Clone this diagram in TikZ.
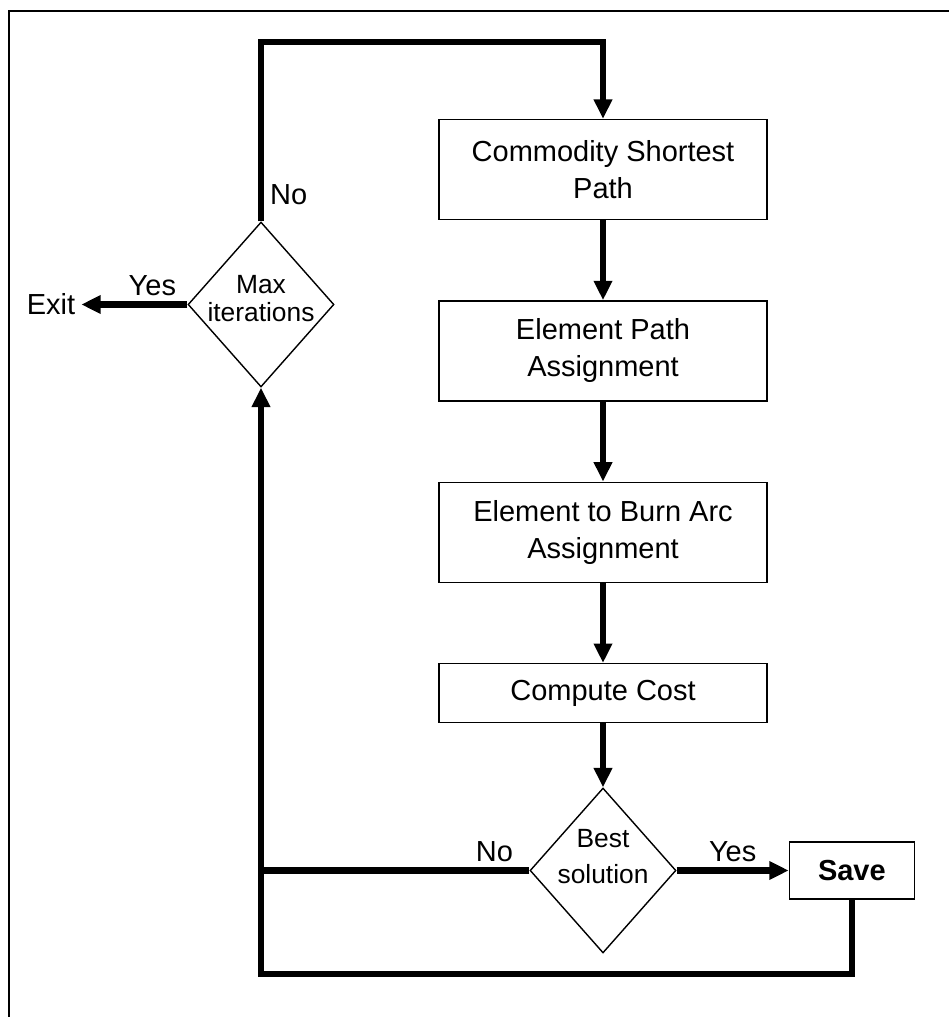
\documentclass[tikz,border=0pt]{standalone}
\usepackage{fontspec}
\setmainfont{Liberation Sans}
\usetikzlibrary{positioning, shapes.geometric, arrows.meta}
\tikzstyle{block} = [rectangle, draw, line width=0.8pt, align=center, minimum width=6.56cm, minimum height=2cm, font=\fontsize{16.5}{21}\selectfont]
\tikzstyle{decision} = [diamond, draw, line width=0.8pt, align=center, inner xsep=-12pt, inner ysep=0pt, minimum width=2.92cm, minimum height=3.3cm, font=\fontsize{15}{16}\selectfont]
\tikzstyle{flow} = [line width=3.8pt, line join=miter]
\tikzstyle{answer} = [font=\fontsize{16.5}{20}\selectfont]

\begin{document}
\begin{tikzpicture}[x=0.02cm, y=-0.02cm, node distance = 1.6cm and 2.24cm, >={Triangle[length=11pt, width=10pt]}]

        \useasboundingbox (0,0) rectangle (949,1017);
        % page frame
        \draw [line width=0.8pt] (949,11) -- (9,11) -- (9,1017);

        \node [block] (shortestpath) at (603,169.5) {Commodity Shortest\\Path};
        \node [block, below = of shortestpath] (pathassignment) {Element Path\\Assignment};
        \node [block, below = of pathassignment] (burnarc) {Element to Burn Arc\\Assignment};
        \node [block, below = of burnarc, minimum height=1.18cm] (computecost) {Compute Cost};
        \node [decision, below = 1.28cm of computecost, text depth=16pt] (bestsolution) {Best\\[5pt]solution};
        \node [block, right = of bestsolution, minimum width=2.5cm, minimum height=1.14cm, font=\fontsize{16.5}{21}\selectfont\bfseries] (save) {Save};
        \node [decision, text depth=7pt] (maxiter) at (261,304.5) {Max\\iterations};
        \node [answer, left = 2.12cm of maxiter] (exit) {Exit};
        \coordinate (looptop) at (261,42);
        \coordinate (loopbottom) at (261,974);

        \draw [flow, ->] (shortestpath) -- (pathassignment);
        \draw [flow, ->] (pathassignment) -- (burnarc);
        \draw [flow, ->] (burnarc) -- (computecost);
        \draw [flow, ->] (computecost) -- (bestsolution);
        \draw [flow, ->] (bestsolution) -- node [answer, above] {Yes} (save);
        \draw [flow] (bestsolution.west) -- node [answer, above, pos=0.13] {No} (bestsolution.west -| loopbottom);
        \draw [flow, ->] (save.south) |- (loopbottom) -- (maxiter.south);
        \draw [flow, ->] (maxiter.north) -- node [answer, right, pos=0.15] {No} (looptop) -| (shortestpath.north);
        \draw [flow, ->] (maxiter) -- node [answer, above, pos=0.33] {Yes} (exit);
        \end{tikzpicture}
\end{document}
